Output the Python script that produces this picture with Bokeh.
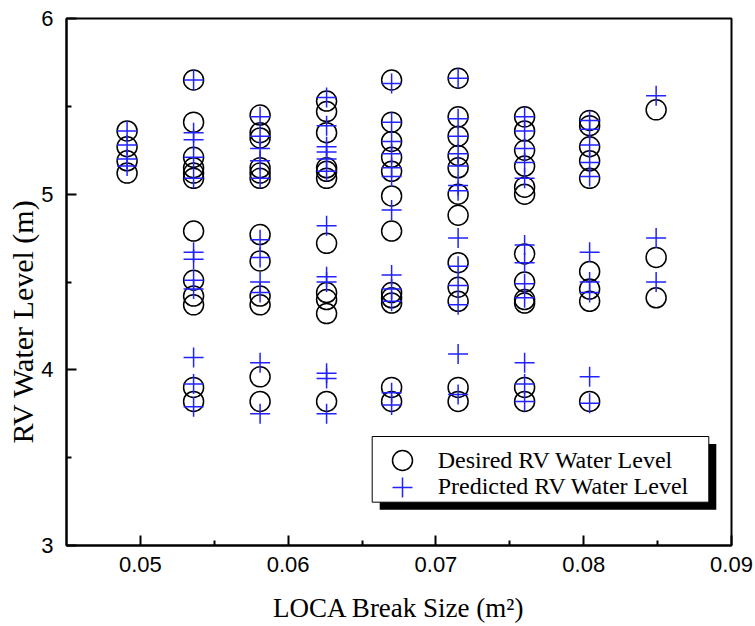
from bokeh.plotting import figure
from bokeh.models import (Range1d, FixedTicker, PrintfTickFormatter, Legend, LegendItem,
                          BoxAnnotation, Title)
from bokeh.embed import file_html
from bokeh.resources import INLINE

# ---- data ----
break_sizes = [0.0491, 0.0536, 0.0581, 0.0626, 0.0670, 0.0715, 0.0760, 0.0804, 0.0849]

desired_levels = [
    [5.36, 5.27, 5.19, 5.12],
    [5.65, 5.41, 5.21, 5.15, 5.12, 5.09, 4.79, 4.51, 4.42, 4.37, 3.90, 3.82],
    [5.45, 5.35, 5.32, 5.15, 5.12, 5.09, 4.77, 4.62, 4.42, 4.37, 3.96, 3.82],
    [5.53, 5.47, 5.35, 5.15, 5.13, 5.09, 4.72, 4.44, 4.40, 4.32, 3.82],
    [5.65, 5.41, 5.30, 5.21, 5.13, 4.99, 4.79, 4.44, 4.41, 4.38, 3.90, 3.82],
    [5.66, 5.44, 5.33, 5.22, 5.15, 5.00, 4.88, 4.61, 4.47, 4.39, 3.90, 3.82],
    [5.44, 5.36, 5.25, 5.16, 5.04, 5.00, 4.66, 4.50, 4.40, 4.38, 3.90, 3.82],
    [5.42, 5.39, 5.27, 5.19, 5.09, 4.56, 4.46, 4.39, 3.82],
    [5.48, 4.64, 4.41],
]

predicted_levels = [
    [5.36, 5.28, 5.20, 5.16],
    [5.65, 5.35, 5.31, 5.21, 5.09, 4.67, 4.63, 4.51, 4.46, 4.07, 3.92, 3.79],
    [5.44, 5.33, 5.26, 5.19, 5.09, 4.74, 4.64, 4.50, 4.44, 4.04, 3.75],
    [5.55, 5.39, 5.27, 5.24, 5.20, 5.13, 4.82, 4.53, 4.50, 3.98, 3.95, 3.75],
    [5.63, 5.41, 5.30, 5.23, 5.15, 5.10, 4.91, 4.54, 4.46, 4.39, 3.87, 3.80],
    [5.66, 5.43, 5.33, 5.23, 5.16, 5.05, 5.02, 4.75, 4.59, 4.48, 4.37, 4.09, 3.86],
    [5.44, 5.36, 5.26, 5.18, 5.09, 4.71, 4.61, 4.49, 4.41, 4.04, 3.92, 3.82],
    [5.42, 5.37, 5.28, 5.18, 5.10, 4.67, 4.50, 4.44, 3.96, 3.81],
    [5.56, 4.75, 4.50],
]

x_ticks = [0.05, 0.06, 0.07, 0.08, 0.09]
x_minor = [0.055, 0.065, 0.075, 0.085]
y_ticks = [3, 4, 5, 6]
y_minor = [3.5, 4.5, 5.5]

legend_labels = ["Desired RV Water Level", "Predicted RV Water Level"]
x_title = "LOCA Break Size (m\u00b2)"
y_title = "RV Water Level (m)"

X_RANGE = (0.045, 0.09)
Y_RANGE = (3, 6)


def flatten(xs, groups):
    fx, fy = [], []
    for x, g in zip(xs, groups):
        for v in g:
            fx.append(x)
            fy.append(v)
    return fx, fy


dx, dy = flatten(break_sizes, desired_levels)
px_, py_ = flatten(break_sizes, predicted_levels)

W, H = 755, 626
BL, BR, BT, BB = 66, 24, 18, 81
FW, FH = W - BL - BR, H - BT - BB
p = figure(width=W, height=H,
           x_range=Range1d(*X_RANGE), y_range=Range1d(*Y_RANGE),
           output_backend="svg", toolbar_location=None,
           min_border_left=BL, min_border_right=BR, min_border_top=BT, min_border_bottom=BB)
p.background_fill_color = "white"
p.border_fill_color = "white"
p.xgrid.visible = False
p.ygrid.visible = False
p.outline_line_color = "black"
p.outline_line_width = 2
p.outline_line_alpha = 1

r1 = p.scatter(dx, dy, marker="circle", size=20, fill_color=None,
               line_color="black", line_width=1.5)
r2 = p.scatter(px_, py_, marker="cross", size=20, line_color="#2222ff", line_width=1.5)

p.xaxis.ticker = FixedTicker(ticks=x_ticks, minor_ticks=x_minor)
p.yaxis.ticker = FixedTicker(ticks=y_ticks, minor_ticks=y_minor)
p.xaxis.formatter = PrintfTickFormatter(format="%.2f")
p.yaxis.formatter = PrintfTickFormatter(format="%d")

for ax in (p.xaxis[0], p.yaxis[0]):
    ax.axis_line_width = 2
    ax.axis_line_color = "black"
    ax.major_tick_in = 10
    ax.major_tick_out = 0
    ax.minor_tick_in = 5
    ax.minor_tick_out = 0
    ax.major_tick_line_width = 2
    ax.minor_tick_line_width = 2
    ax.major_label_text_font = "Liberation Sans"
    ax.major_label_text_font_size = "22px"
    ax.major_label_text_color = "black"
    ax.axis_label_text_font = "Liberation Serif"
    ax.axis_label_text_font_size = "27px"
    ax.axis_label_text_font_style = "normal"
    ax.axis_label_text_color = "black"

p.xaxis.axis_label = x_title
p.xaxis.major_label_standoff = 11
p.yaxis.major_label_standoff = 13
p.xaxis.axis_label_standoff = 18

# y-axis title: placed like the reference, a little below the frame centre
p.add_layout(Title(text=y_title, align="left", offset=102, standoff=0,
                   text_font="Liberation Serif", text_font_size="30px",
                   text_font_style="normal", text_color="black"), "left")


def sx(px):
    return X_RANGE[0] + px / FW * (X_RANGE[1] - X_RANGE[0])


def sy(py):
    return Y_RANGE[0] + py / FH * (Y_RANGE[1] - Y_RANGE[0])


# legend geometry in screen px (relative to frame bottom-left)
LEG_X, LEG_Y, LEG_W, LEG_H, SHADOW = 305.7, 43.3, 336.6, 65.7, 7.5
ROW_CENTERS = [85.0, 58.4]
GLYPH_W, GLYPH_H = 60, 50

p.add_layout(BoxAnnotation(left=sx(LEG_X + SHADOW), right=sx(LEG_X + LEG_W + SHADOW),
                           bottom=sy(LEG_Y - SHADOW), top=sy(LEG_Y + LEG_H - SHADOW),
                           fill_color="black", fill_alpha=1, line_color=None))
p.add_layout(BoxAnnotation(left=sx(LEG_X), right=sx(LEG_X + LEG_W),
                           bottom=sy(LEG_Y), top=sy(LEG_Y + LEG_H),
                           fill_color="white", fill_alpha=1, line_color="black",
                           line_width=1, line_alpha=1))

for lab, rend, cy in zip(legend_labels, [r1, r2], ROW_CENTERS):
    lg = Legend(items=[LegendItem(label=lab, renderers=[rend])],
                location=(LEG_X, cy - GLYPH_H / 2), glyph_width=GLYPH_W, glyph_height=GLYPH_H,
                spacing=0, padding=0, margin=0, label_standoff=6,
                label_text_font="Liberation Serif", label_text_font_size="24px",
                label_text_color="black", label_text_baseline="middle",
                border_line_color=None, background_fill_alpha=0)
    p.add_layout(lg)

open("out.html", "w").write(file_html(p, INLINE))
